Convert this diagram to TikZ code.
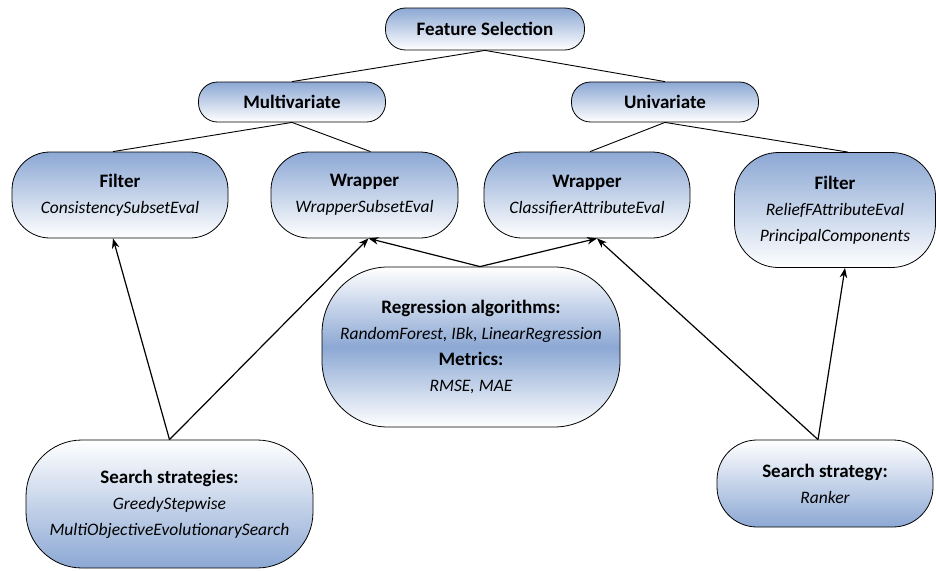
\documentclass[tikz,border=0pt]{standalone}
\usepackage{fontspec}
\setmainfont{Carlito}
\usetikzlibrary{arrows.meta,calc}
\definecolor{fsblue}{RGB}{140,168,212}
\tikzset{
  box/.style={draw=black, line width=0.8pt, rounded corners=#1, align=center, inner sep=0pt,
    font=\fontsize{17.5}{26}\selectfont},
  blueTop/.style={top color=fsblue, bottom color=white},
  blueBot/.style={top color=white, bottom color=fsblue},
  blueMid/.style={top color=white, bottom color=white, middle color=fsblue},
  link/.style={line width=0.9pt},
  arr/.style={line width=1.2pt, -{Stealth[length=10pt,width=7.5pt]}},
}
\newcommand{\ti}[1]{{\fontsize{17.5}{26}\selectfont\itshape #1}}
\newcommand{\tb}[1]{{\fontsize{19}{26}\selectfont\bfseries #1}}
\begin{document}
\begin{tikzpicture}[x=1pt,y=-1pt]
\useasboundingbox (0,0) rectangle (936,570);
\node[box=20pt, blueTop, minimum width=199pt, minimum height=42pt] (fs) at (485,29) {\tb{Feature Selection}};
\node[box=19pt, blueTop, minimum width=187pt, minimum height=40pt] (mv) at (292,102) {\tb{Multivariate}};
\node[box=19pt, blueTop, minimum width=187pt, minimum height=40pt] (uv) at (665,102) {\tb{Univariate}};
\node[box=38pt, blueTop, minimum width=216pt, minimum height=86pt] (fl) at (120,195) {\tb{Filter}\\\ti{ConsistencySubsetEval}};
\node[box=38pt, blueTop, minimum width=187pt, minimum height=86pt] (wm) at (364.5,195) {\tb{Wrapper}\\\ti{WrapperSubsetEval}};
\node[box=38pt, blueTop, minimum width=206pt, minimum height=86pt] (wu) at (587,195) {\tb{Wrapper}\\\ti{ClassifierAttributeEval}};
\node[box=44pt, blueTop, minimum width=201pt, minimum height=115pt] (fr) at (835,210) {\tb{Filter}\\\ti{ReliefFAttributeEval}\\\ti{PrincipalComponents}};
\node[box=66pt, blueMid, minimum width=298pt, minimum height=160pt] (rg) at (471,347) {\tb{Regression algorithms:}\\\ti{RandomForest, IBk, LinearRegression}\\\tb{Metrics:}\\\ti{RMSE, MAE}};
\node[box=56pt, blueBot, minimum width=287pt, minimum height=128pt] (ss) at (169.5,504) {\tb{Search strategies:}\\\ti{GreedyStepwise}\\\ti{MultiObjectiveEvolutionarySearch}};
\node[box=40pt, blueBot, minimum width=216pt, minimum height=87pt] (sr) at (825,483.5) {\tb{Search strategy:}\\\ti{Ranker}};
% tree links
\draw[link] (fs.south) -- (mv.north);
\draw[link] (fs.south) -- (uv.north);
\draw[link] (mv.south) -- ([xshift=-7pt]fl.north);
\draw[link] (mv.south) -- ([xshift=6pt]wm.north);
\draw[link] (uv.south) -- ([xshift=3pt]wu.north);
\draw[link] (uv.south) -- ([xshift=13pt]fr.north);
% arrows
\draw[arr] (ss.north) -- ([xshift=-7pt]fl.south);
\draw[arr] (ss.north) -- ([xshift=4pt]wm.south);
\draw[arr] ([xshift=9pt]rg.north) -- ([xshift=4pt]wm.south);
\draw[arr] ([xshift=9pt]rg.north) -- ([xshift=10pt]wu.south);
\draw[arr] ([xshift=-7pt]sr.north) -- ([xshift=10pt]wu.south);
\draw[arr] ([xshift=-7pt]sr.north) -- ([xshift=10pt]fr.south);
\end{tikzpicture}
\end{document}
